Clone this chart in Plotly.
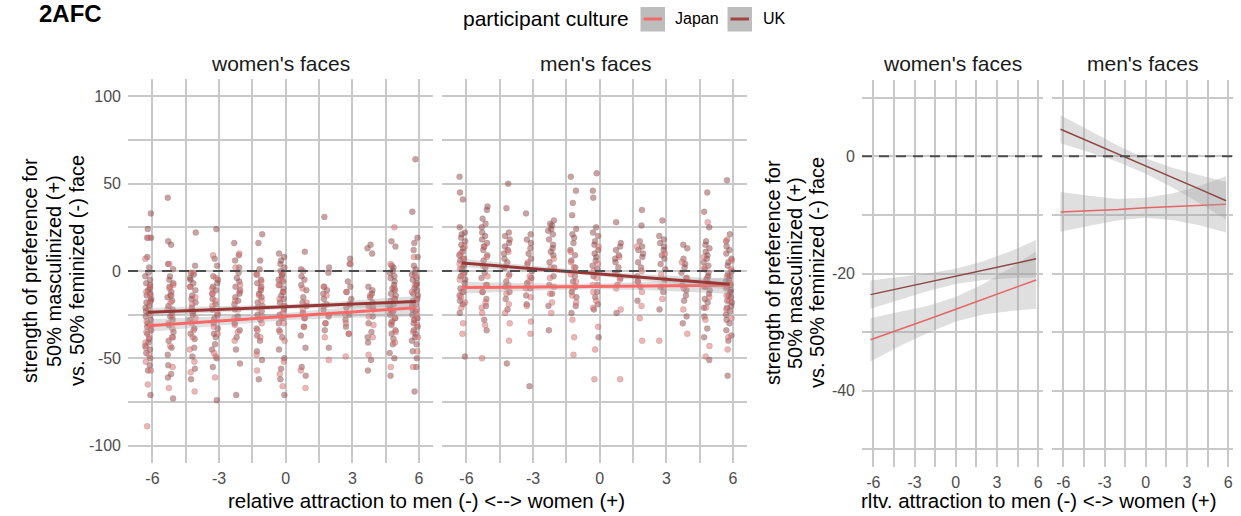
import plotly.graph_objects as go

# ---------------- data ----------------
LEVELS = [-6, -5, -4, -3, -2, -1, 0, 1, 2, 3, 4, 5, 6]

# scatter values (strength of preference) per attraction level, women's faces
women_japan = [
    [19, 7, -9, -12, -14, -18, -22, -25, -29, -31, -33, -35, -38, -41, -44, -48, -52, -57, -65, -89],
    [4, -8, -10, -14, -18, -22, -26, -30, -33, -38, -43, -55, -67],
    [-1, -9, -15, -19, -23, -27, -30, -34, -38, -45, -52, -58, -69],
    [9, -4, -10, -13, -17, -20, -24, -28, -32, -36, -47, -49, -61],
    [10, 2, -8, -12, -17, -22, -27, -31, -35, -40],
    [-2, -6, -10, -14, -17, -21, -26, -30, -34, -38, -48, -57],
    [-1, -5, -8, -12, -16, -20, -24, -27, -30, -35, -40, -52, -59, -66],
    [0, -10, -18, -22, -27, -32, -57, -67],
    [-9, -14, -20, -25, -30, -38, -51],
    [4, -12, -19, -25, -30, -36, -49],
    [-14, -20, -26, -31, -38, -48],
    [25, 4, -10, -16, -24, -27, -30, -35, -41, -55],
    [8, -3, -8, -12, -16, -19, -22, -25, -28, -31, -35, -38, -46, -55],
]
women_uk = [
    [33, 24, 19, 19, 8, 2, -1, -3, -5, -7, -8, -10, -11, -13, -14, -16, -17, -18, -20, -21, -23, -24,
     -26, -28, -30, -32, -34, -36, -39, -41, -43, -45, -47, -50, -54, -57, -71],
    [42, 17, 15, 4, 1, -3, -5, -7, -9, -12, -14, -15, -17, -20, -22, -24, -26, -28, -31, -35, -38, -40,
     -44, -48, -54, -59, -61, -73],
    [22, 3, -1, -2, -4, -5, -7, -9, -11, -14, -16, -18, -21, -23, -25, -28, -33, -36, -39, -44, -49, -56, -62],
    [24, 7, 3, -3, -5, -7, -9, -11, -13, -16, -19, -22, -25, -27, -30, -33, -36, -38, -42, -45, -50, -55, -74],
    [16, 9, 6, 2, -1, -4, -6, -9, -11, -13, -15, -17, -19, -22, -26, -30, -34, -38, -45, -53, -71],
    [21, 16, 6, 1, -2, -5, -7, -9, -11, -13, -15, -18, -20, -23, -25, -28, -33, -37, -40, -46, -51, -62],
    [10, 8, 6, 4, 2, 0, -2, -3, -5, -6, -8, -10, -12, -14, -16, -18, -20, -22, -25, -27, -30, -34, -38,
     -45, -50, -56, -62, -71],
    [11, 1, -3, -5, -8, -11, -15, -18, -20, -24, -27, -32, -37, -44, -55, -60],
    [31, 2, -1, -9, -11, -13, -16, -19, -22, -26, -30, -34, -44],
    [7, 4, -6, -9, -12, -16, -19, -21, -25, -28, -32, -36],
    [15, 13, 10, -9, -11, -13, -15, -18, -20, -22, -26, -30, -35, -38, -41, -51, -57],
    [17, 14, 3, 2, 0, -1, -3, -4, -6, -8, -10, -11, -13, -14, -16, -17, -19, -20, -22, -23, -25, -27,
     -29, -31, -34, -36, -39, -42, -47, -50, -60],
    [64, 34, 19, 16, 12, 8, 3, 1, -1, -2, -4, -5, -7, -8, -10, -11, -13, -14, -16, -17, -19, -20, -22,
     -23, -25, -27, -28, -30, -32, -34, -36, -38, -40, -42, -46, -50, -55, -69],
]
# men's faces
men_japan = [
    [14, 10, 7, 4, 1, -2, -5, -9, -12, -15, -18, -21, -30, -36],
    [14, 8, 3, -3, -8, -12, -18, -21, -24, -31, -50],
    [11, 2, -3, -8, -13, -19, -24, -30, -40],
    [5, -3, -6, -10, -15, -20, -29, -36],
    [7, 2, -4, -9, -13, -18, -24],
    [11, 5, 2, -2, -6, -10, -14, -18, -28, -38, -48],
    [14, 4, 0, -4, -8, -12, -17, -21, -32, -45, -62],
    [8, -2, -5, -10, -22, -62],
    [14, 0, -6, -12, -20, -27, -40],
    [10, -2, -9, -16, -40],
    [5, -4, -10, -22, -36],
    [28, 8, 2, -4, -9, -15, -21, -28, -43, -49],
    [18, 6, 1, -3, -7, -10, -14, -17, -22, -27, -38, -45],
]
men_uk = [
    [54, 45, 41, 25, 22, 21, 19, 17, 15, 13, 11, 9, 7, 6, 4, 3, 1, -1, -3, -5, -7, -10, -12, -14, -17, -19, -24, -49],
    [37, 35, 30, 27, 25, 22, 20, 18, 16, 14, 12, 9, 6, 2, -1, -4, -8, -12, -16, -20, -28, -34],
    [50, 36, 22, 20, 18, 16, 14, 12, 10, 7, 5, 2, -2, -6, -9, -12, -16, -22, -53],
    [33, 21, 18, 16, 13, 10, 7, 4, 0, -4, -7, -10, -14, -19, -66],
    [29, 27, 26, 24, 23, 21, 18, 15, 13, 11, 9, 5, 2, -3, -8, -13, -20, -34],
    [54, 46, 39, 32, 24, 21, 19, 16, 12, 9, 6, 2, -3, -6, -9, -12, -15, -20, -24],
    [56, 46, 42, 25, 22, 20, 17, 15, 12, 10, 8, 6, 3, 1, -3, -8, -12, -15, -19, -22, -38],
    [28, 16, 14, 12, 9, 7, 5, 2, -1, -4, -8, -24],
    [35, 26, 17, 14, 12, 10, 8, 5, 2, -3, -6, -9, -17],
    [29, 20, 18, 16, 14, 12, 9, 7, 4, 1, -5, -9, -12, -22],
    [15, 13, 7, 4, 2, -1, -4, -8, -11, -14, -17, -26, -30],
    [45, 34, 25, 17, 15, 13, 11, 9, 7, 5, 3, 1, -1, -3, -5, -7, -9, -11, -13, -16, -18, -21, -26, -33, -38, -51],
    [52, 21, 17, 14, 12, 10, 7, 5, 3, 0, -2, -3, -5, -6, -8, -9, -11, -12, -14, -15, -17, -18, -20, -21,
     -23, -25, -28, -30, -34, -37, -40, -60],
]

# horizontal jitter offsets used to spread points within a column
JITTER = [-0.07, -0.26, -0.15, -0.31, -0.10, -0.21, -0.05, -0.18, -0.29, -0.12,
          -0.24, -0.08, -0.32, -0.16, -0.20, -0.06, -0.27, -0.11, -0.30, -0.09,
          -0.23, -0.14, -0.28]

# linear fits with 95% CI
FIT_X = [-6.2, -4, -2, 0, 2, 4, 5.85]
women_uk_fit = [-23.6, -22.5, -21.5, -20.5, -19.5, -18.5, -17.5]
women_uk_lo = [-26.0, -24.4, -23.0, -21.8, -21.1, -20.8, -20.7]
women_uk_hi = [-21.2, -20.6, -20.0, -19.2, -17.9, -16.2, -14.3]
women_japan_fit = [-31.3, -29.4, -27.8, -26.1, -24.4, -22.7, -21.1]
women_japan_lo = [-35.0, -32.3, -30.1, -28.2, -27.0, -26.4, -26.0]
women_japan_hi = [-27.6, -26.5, -25.5, -24.0, -21.8, -19.0, -16.2]
men_uk_fit = [4.6, 2.4, 0.4, -1.7, -3.7, -5.7, -7.6]
men_uk_lo = [2.2, 0.6, -1.0, -3.0, -5.4, -8.1, -10.8]
men_uk_hi = [7.0, 4.2, 1.8, -0.4, -2.0, -3.3, -4.4]
men_japan_fit = [-9.5, -9.3, -9.1, -8.8, -8.6, -8.4, -8.2]
men_japan_lo = [-12.9, -11.8, -10.9, -10.5, -10.9, -11.8, -13.0]
men_japan_hi = [-6.1, -6.8, -7.3, -7.1, -6.3, -5.0, -3.4]

X_TICKS = [-6, -3, 0, 3, 6]
X_TICK_LABELS = ["-6", "-3", "0", "3", "6"]
X_MINOR = [-4.5, -1.5, 1.5, 4.5]
Y_TICKS_L = [-100, -50, 0, 50, 100]
Y_TICK_LABELS_L = ["-100", "-50", "0", "50", "100"]
Y_MINOR_L = [-75, -25, 25, 75]
Y_TICKS_R = [-40, -20, 0]
Y_TICK_LABELS_R = ["-40", "-20", "0"]
Y_MINOR_R = [-50, -30, -10, 10]

# ---------------- styling ----------------
W, H = 1241, 516
FONT = "Liberation Sans, Arial, Helvetica, sans-serif"
JP_COL = "#FF6666"
UK_COL = "#993636"
JP_PT = "rgba(222,100,100,0.48)"
UK_PT = "rgba(140,52,52,0.46)"
PT_EDGE = "rgba(120,110,110,0.35)"
RIB = "rgba(160,160,160,0.34)"
GRID = "#c9c9c9"


def px(x):
    return x / W


def py(y):
    return 1 - y / H


def jittered(cols, shift):
    xs, ys = [], []
    for ci, (lvl, vals) in enumerate(zip(LEVELS, cols)):
        for i, v in enumerate(vals):
            xs.append(lvl + JITTER[(i * 5 + ci * 3 + shift) % len(JITTER)])
            ys.append(v)
    return xs, ys


fig = go.Figure()


def add_points(cols, shift, color, xa, ya):
    xs, ys = jittered(cols, shift)
    fig.add_trace(go.Scatter(x=xs, y=ys, mode="markers", xaxis=xa, yaxis=ya,
                             marker=dict(size=6, color=color, line=dict(width=0.6, color=PT_EDGE)),
                             showlegend=False, hoverinfo="skip"))


def add_fit(fit, lo, hi, color, width, xa, ya):
    fig.add_trace(go.Scatter(x=FIT_X + FIT_X[::-1], y=hi + lo[::-1], mode="lines",
                             fill="toself", fillcolor=RIB, line=dict(width=0),
                             xaxis=xa, yaxis=ya, showlegend=False, hoverinfo="skip"))
    fig.add_trace(go.Scatter(x=FIT_X, y=fit, mode="lines", xaxis=xa, yaxis=ya,
                             line=dict(color=color, width=width), showlegend=False))


# left plot: points + fits
add_points(women_uk, 0, UK_PT, "x", "y")
add_points(women_japan, 7, JP_PT, "x", "y")
add_points(men_uk, 3, UK_PT, "x2", "y2")
add_points(men_japan, 11, JP_PT, "x2", "y2")
for xa, ya, series in [("x", "y", [(women_japan_fit, women_japan_lo, women_japan_hi, JP_COL),
                                    (women_uk_fit, women_uk_lo, women_uk_hi, UK_COL)]),
                       ("x2", "y2", [(men_japan_fit, men_japan_lo, men_japan_hi, JP_COL),
                                     (men_uk_fit, men_uk_lo, men_uk_hi, UK_COL)])]:
    for f, l, h, c in series:
        add_fit(f, l, h, c, 3, xa, ya)

# right plot: fits only
add_fit(women_japan_fit, women_japan_lo, women_japan_hi, "#E46666", 1.5, "x3", "y3")
add_fit(women_uk_fit, women_uk_lo, women_uk_hi, "#8E4646", 1.5, "x3", "y3")
add_fit(men_japan_fit, men_japan_lo, men_japan_hi, "#E46666", 1.5, "x4", "y4")
add_fit(men_uk_fit, men_uk_lo, men_uk_hi, "#8E4646", 1.5, "x4", "y4")

tickfont = dict(family=FONT, size=16, color="#4d4d4d")


def xaxis(dom, rng, anchor):
    return dict(domain=dom, range=rng, anchor=anchor, tickvals=X_TICKS, ticktext=X_TICK_LABELS,
                showgrid=True, gridcolor=GRID, gridwidth=2, zeroline=False, showline=False,
                ticks="", tickfont=tickfont, ticklabelstandoff=4,
                minor=dict(tickvals=X_MINOR, showgrid=True, gridcolor=GRID, gridwidth=2, ticks=""))


def yaxis(dom, rng, anchor, tv, tt, mv, labels):
    return dict(domain=dom, range=rng, anchor=anchor, tickvals=tv, ticktext=tt,
                showticklabels=labels, showgrid=True, gridcolor=GRID, gridwidth=2,
                zeroline=False, showline=False, ticks="", tickfont=tickfont, ticklabelstandoff=6,
                minor=dict(tickvals=mv, showgrid=True, gridcolor=GRID, gridwidth=2, ticks=""))


XR_L = [-7.1, 6.63]
XR_R = [-6.82, 6.35]
yl = [py(463), py(79)]
yr = [py(467), py(80)]
fig.update_layout(
    width=W, height=H, margin=dict(l=0, r=0, t=0, b=0),
    paper_bgcolor="white", plot_bgcolor="white",
    font=dict(family=FONT, color="#1a1a1a"),
    xaxis=xaxis([px(128), px(433)], XR_L, "y"),
    xaxis2=xaxis([px(442), px(747)], XR_L, "y2"),
    xaxis3=xaxis([px(862), px(1043)], XR_R, "y3"),
    xaxis4=xaxis([px(1052), px(1233)], XR_R, "y4"),
    yaxis=yaxis(yl, [-110, 110], "x", Y_TICKS_L, Y_TICK_LABELS_L, Y_MINOR_L, True),
    yaxis2=yaxis(yl, [-110, 110], "x2", Y_TICKS_L, Y_TICK_LABELS_L, Y_MINOR_L, False),
    yaxis3=yaxis(yr, [-53, 13], "x3", Y_TICKS_R, Y_TICK_LABELS_R, Y_MINOR_R, True),
    yaxis4=yaxis(yr, [-53, 13], "x4", Y_TICKS_R, Y_TICK_LABELS_R, Y_MINOR_R, False),
)

# dashed zero reference lines
for xa, ya, rng in [("x", "y", XR_L), ("x2", "y2", XR_L), ("x3", "y3", XR_R), ("x4", "y4", XR_R)]:
    fig.add_shape(type="line", xref=xa, yref=ya, x0=rng[0], x1=rng[1], y0=0, y1=0,
                  line=dict(color="#4d4d4d", width=2, dash="10px,7px"), layer="above")

ann = []


def text(x, y, s, size, color="#1a1a1a", angle=0, xanchor="center", bold=False):
    ann.append(dict(x=px(x), y=py(y), xref="paper", yref="paper", text=f"<b>{s}</b>" if bold else s,
                    showarrow=False, textangle=angle, xanchor=xanchor, yanchor="middle",
                    font=dict(family=FONT, size=size, color=color)))


text(37, 13, "2AFC", 24, "black", xanchor="left", bold=True)
# strip titles
text(280, 63, "women's faces", 21)
text(595, 63, "men's faces", 21)
text(952, 63, "women's faces", 21)
text(1142, 63, "men's faces", 21)
# axis titles
text(426, 500, "relative attraction to men (-) &lt;--&gt; women (+)", 20.5, "black")
text(1039, 500, "rltv. attraction to men (-) &lt;-&gt; women (+)", 20.5, "black")
for cx, cy in [((30, 54, 77), 271), ((773, 795, 817), 273)]:
    text(cx[0], cy, "strength of preference for", 20, "black", angle=-90)
    text(cx[1], cy, "50% masculinized (+)", 20, "black", angle=-90)
    text(cx[2], cy, "vs. 50% feminized (-) face", 20, "black", angle=-90)

# legend (drawn)
text(631, 19, "participant culture", 21, "black", xanchor="right")
text(673, 19, "Japan", 16, "black", xanchor="left")
text(760.5, 19, "UK", 16, "black", xanchor="left")
for x0, col in [(640.5, "#F06A6A"), (727.5, "#A04444")]:
    fig.add_shape(type="rect", xref="paper", yref="paper", x0=px(x0), x1=px(x0 + 24.5),
                  y0=py(31.5), y1=py(7), fillcolor="#bdbdbd", line=dict(width=0), layer="above")
    fig.add_shape(type="line", xref="paper", yref="paper", x0=px(x0 + 3), x1=px(x0 + 21.5),
                  y0=py(19), y1=py(19), line=dict(color=col, width=3), layer="above")

fig.update_layout(annotations=ann)
fig.write_html("out.html")
